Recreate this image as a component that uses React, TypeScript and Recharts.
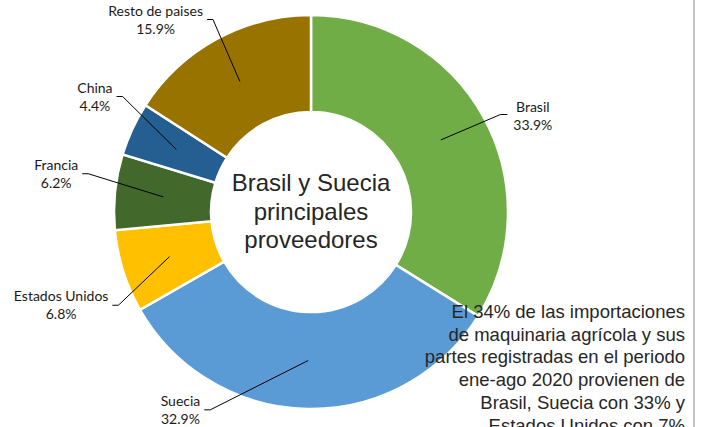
import { PieChart, Pie, Cell } from "recharts";

const countries = ["Brasil", "Suecia", "Estados Unidos", "Francia", "China", "Resto de paises"];
const shares = [33.9, 32.9, 6.8, 6.2, 4.4, 15.9];
const sliceColors = ["#70AD47", "#5B9BD5", "#FFC000", "#43682B", "#255E91", "#997300"];

const centerLines = ["Brasil y Suecia", "principales", "proveedores"];
const noteLines = [
  "El 34% de las importaciones",
  "de maquinaria agrícola y sus",
  "partes registradas en el periodo",
  "ene-ago 2020 provienen de",
  "Brasil, Suecia con 33% y",
  "Estados Unidos con 7%",
];

const data = countries.map((name, i) => ({ name, value: shares[i] }));

// where Excel dragged each label: angle shift from mid-slice, distance past the ring
const labelNudge: Record<string, { da: number; dr: number }> = {
  Brasil: { da: -1.8, dr: 16 },
  Suecia: { da: -25.9, dr: 25 },
  "Estados Unidos": { da: 8.3, dr: 17 },
  Francia: { da: -3.9, dr: 29 },
  China: { da: -6.6, dr: 24 },
  "Resto de paises": { da: -1.6, dr: 19 },
};

const LABEL_SIZE = 14;
const LABEL_FONT = `${LABEL_SIZE}px Lato`;
const RAD = Math.PI / 180;

function textWidth(s: string) {
  const ctx = document.createElement("canvas").getContext("2d");
  if (!ctx) return s.length * 7.2;
  ctx.font = LABEL_FONT;
  return ctx.measureText(s).width;
}

function SliceLabel(props: any) {
  const { cx, cy, midAngle, innerRadius, outerRadius, name, value } = props;
  const nudge = labelNudge[name] ?? { da: 0, dr: 20 };
  const rMid = (innerRadius + outerRadius) / 2;
  const sx = cx + rMid * Math.cos(midAngle * RAD);
  const sy = cy - rMid * Math.sin(midAngle * RAD);
  const a = (midAngle + nudge.da) * RAD;
  const ex = cx + (outerRadius + nudge.dr) * Math.cos(a);
  const ey = cy - (outerRadius + nudge.dr) * Math.sin(a);
  const right = Math.cos(a) > 0;
  const fx = ex + (right ? 7 : -6);
  const pct = `${value.toFixed(1)}%`;
  const w = Math.max(textWidth(name), textWidth(pct));
  const tx = right ? fx + 6 + w / 2 : fx - 4 - w / 2;
  const ty = right ? ey + 0.5 : ey - 0.5;
  return (
    <g>
      <polyline points={`${sx},${sy} ${ex},${ey} ${fx},${ey}`} fill="none" stroke="#000" strokeWidth={1} />
      <text x={tx} y={ty - 9} textAnchor="middle" dominantBaseline="central" fontFamily="Lato" fontSize={LABEL_SIZE} fill="#1a1a1a">
        {name}
      </text>
      <text x={tx} y={ty + 9} textAnchor="middle" dominantBaseline="central" fontFamily="Lato" fontSize={LABEL_SIZE} fill="#1a1a1a">
        {pct}
      </text>
    </g>
  );
}

export default function App() {
  return (
    <div style={{ position: "fixed", left: 0, top: 0, width: 702, height: 427, overflow: "hidden", background: "#fff" }}>
      <PieChart width={702} height={427} margin={{ top: 0, right: 0, bottom: 0, left: 0 }}>
        <Pie
          data={data}
          dataKey="value"
          nameKey="name"
          cx={311}
          cy={212}
          innerRadius={100}
          outerRadius={197}
          startAngle={90}
          endAngle={-270}
          stroke="#fff"
          strokeWidth={2.5}
          label={SliceLabel}
          labelLine={false}
          isAnimationActive={false}
        >
          {data.map((d, i) => (
            <Cell key={d.name} fill={sliceColors[i]} />
          ))}
        </Pie>
      </PieChart>
      <svg width={702} height={427} style={{ position: "absolute", left: 0, top: 0, pointerEvents: "none" }}>
        {centerLines.map((t, i) => (
          <text key={t} x={311} y={191 + i * 28.5} textAnchor="middle" fontFamily="'Liberation Sans', Arial" fontSize={24} fill="#262626">
            {t}
          </text>
        ))}
        {noteLines.map((t, i) => (
          <text key={t} x={685} y={318 + i * 22.7} textAnchor="end" fontFamily="'Liberation Sans', Arial" fontSize={18.5} fill="#262626">
            {t}
          </text>
        ))}
        <line x1={694} y1={0} x2={694} y2={427} stroke="#888" strokeWidth={1} />
      </svg>
    </div>
  );
}
